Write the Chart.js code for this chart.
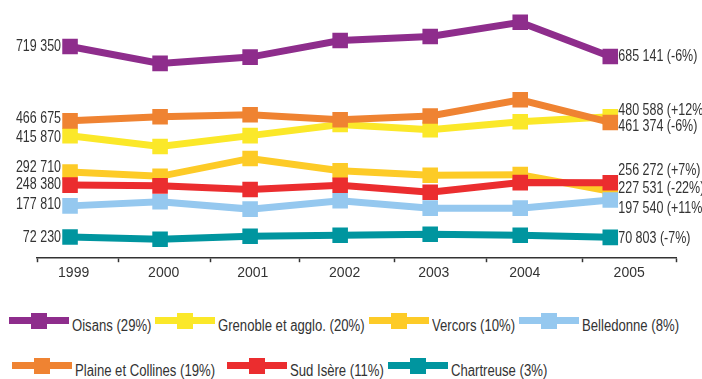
<!DOCTYPE html>
<html lang="fr">
<head>
<meta charset="utf-8">
<title>Évolution par secteur 1999-2005</title>
<script src="https://cdn.jsdelivr.net/npm/chart.js@4.4.1/dist/chart.umd.min.js"></script>
<style>
  html, body { margin: 0; padding: 0; background: #fff; }
  #wrap { position: relative; width: 702px; height: 379px; overflow: hidden; }
  #box { position: absolute; left: 0; top: 0; width: 702px; height: 300px; }
  .row { position: absolute; display: flex; align-items: flex-start; height: 16px; }
  .item { display: flex; align-items: flex-start; margin-right: 4px; }
  .sw { position: relative; width: 60px; height: 16px; flex: none; }
  .sw .bar { position: absolute; left: 0; top: 4px; width: 60px; height: 7px; }
  .sw .sq { position: absolute; left: 22px; top: 0; width: 16px; height: 16px; }
  .lbl { display: inline-block; margin-left: 3px; font: 16px 'Liberation Sans', Arial, sans-serif;
         color: #333; line-height: 16px; position: relative; top: 5px; white-space: nowrap;
         transform-origin: left center; }
</style>
</head>
<body>
<div id="wrap">
  <div id="box"><canvas id="grafico"></canvas></div>
  <div class="row" id="row1" style="left:9px; top:313px;"></div>
  <div class="row" id="row2" style="left:12px; top:358px;"></div>
</div>
<script>
var years = [1999, 2000, 2001, 2002, 2003, 2004, 2005];

var oisans     = [719350, 662000, 683300, 739700, 753200, 801500, 685141];
var grenoble   = [415870, 379500, 416600, 454400, 436900, 463900, 480588];
var vercors    = [292710, 278200, 339000, 297400, 281600, 283900, 227531];
var belledonne = [177810, 191800, 166800, 195100, 170100, 170100, 197540];
var plaine     = [466675, 480700, 487500, 470600, 483100, 538100, 461374];
var sudIsere   = [248380, 245800, 233300, 247800, 224200, 256900, 256272];
var chartreuse = [72230, 64500, 74600, 78000, 81400, 78000, 70803];

var names  = ['Oisans', 'Grenoble et agglo.', 'Vercors', 'Belledonne', 'Plaine et Collines', 'Sud Isère', 'Chartreuse'];
var shares = ['29%', '20%', '10%', '8%', '19%', '11%', '3%'];
var change = ['-6%', '+12%', '-22%', '+11%', '-6%', '+7%', '-7%'];

// year labels sit centred in each section, sections split by the tick marks
var tickLabels   = ['1999', '2000', '2001', '2002', '2003', '2004', '2005'];
var labelPos     = [1999.04, 2000.04, 2001.03, 2002.05, 2003.04, 2004.05, 2005.21];
var sectionTicks = [1998.633, 1999.54, 2000.564, 2001.543, 2002.598, 2003.628, 2004.686, 2005.73];

var series = [oisans, grenoble, vercors, belledonne, plaine, sudIsere, chartreuse];
var colors = ['#8e2d8c', '#fbe829', '#fdcb27', '#95c8ef', '#ef8332', '#eb2d2f', '#00959f'];
var layer  = [1, 5, 5, 1, 1, 1, 1];

var FONT = "'Liberation Sans', Arial, sans-serif";
var NARROW = 0.78;      // squeeze text horizontally, condensed look
var NARROW_LEG = 0.82;

function fmt(v) {
  return String(v).replace(/\B(?=(\d{3})+(?!\d))/g, ' ');
}

var datasets = series.map(function(vals, i) {
  return {
    label: names[i],
    data: years.map(function(yr, j) { return { x: yr, y: vals[j] }; }),
    borderColor: colors[i],
    backgroundColor: colors[i],
    borderWidth: 7,
    pointStyle: 'rect',
    pointRadius: 11,
    pointHoverRadius: 11,
    pointBorderWidth: 0,
    tension: 0,
    order: layer[i]
  };
});

function narrowText(ctx, txt, x, y, align) {
  ctx.save();
  ctx.translate(x, y);
  ctx.scale(NARROW, 1);
  ctx.textAlign = align;
  ctx.fillText(txt, 0, 0);
  ctx.restore();
}

// value at both ends of every line
var endLabels = {
  id: 'endLabels',
  afterDatasetsDraw: function(chart, args, opts) {
    var ctx = chart.ctx;
    ctx.save();
    ctx.font = '16px ' + FONT;
    ctx.fillStyle = '#333';
    ctx.textBaseline = 'middle';
    chart.data.datasets.forEach(function(ds, i) {
      var pts = chart.getDatasetMeta(i).data;
      var a = pts[0], b = pts[pts.length - 1];
      narrowText(ctx, fmt(ds.data[0].y), a.x - 9, a.y + opts.leftNudge[i], 'right');
      narrowText(ctx, fmt(ds.data[ds.data.length - 1].y) + ' (' + change[i] + ')',
                 b.x + 8, b.y + opts.rightNudge[i], 'left');
    });
    ctx.restore();
  }
};

var ctx = document.getElementById('grafico').getContext('2d');
var chart = new Chart(ctx, {
  type: 'line',
  data: { datasets: datasets },
  options: {
    responsive: true,
    maintainAspectRatio: false,
    animation: false,
    layout: { padding: { left: 37, right: 26, top: 10, bottom: 15 } },
    plugins: {
      legend: { display: false },
      tooltip: { enabled: false },
      endLabels: {
        leftNudge:  [0, 2, -4, -1, -2.5, -0.7, 1],
        rightNudge: [0, -6, -2.3, 8.4, 4, -12, 1]
      }
    },
    scales: {
      x: {
        type: 'linear',
        min: sectionTicks[0],
        max: sectionTicks[sectionTicks.length - 1],
        afterBuildTicks: function(scale) {
          scale.ticks = sectionTicks.concat(labelPos).map(function(v) { return { value: v }; });
        },
        grid: {
          drawOnChartArea: false,
          tickLength: 4,
          tickWidth: 1.5,
          tickColor: function(c) {
            return labelPos.indexOf(c.tick.value) >= 0 ? 'rgba(0,0,0,0)' : '#333';
          }
        },
        border: { color: '#333', width: 1.5 },
        ticks: {
          autoSkip: false,
          maxRotation: 0,
          padding: 3,
          color: '#333',
          font: { family: FONT, size: 14 },
          callback: function(v) {
            var k = labelPos.indexOf(v);
            return k >= 0 ? tickLabels[k] : '';
          }
        }
      },
      y: {
        display: false,
        min: 0,
        max: 840000
      }
    }
  },
  plugins: [endLabels]
});

// legend rows under the chart
datasets.forEach(function(ds, i) {
  var row = document.getElementById(i < 4 ? 'row1' : 'row2');
  var item = document.createElement('div');
  item.className = 'item';
  item.innerHTML = '<div class="sw"><div class="bar" style="background:' + ds.borderColor + '"></div>' +
    '<div class="sq" style="background:' + ds.borderColor + '"></div></div>' +
    '<span class="lbl">' + names[i] + ' (' + shares[i] + ')</span>';
  row.appendChild(item);
  var lbl = item.querySelector('.lbl');
  lbl.style.transform = 'scaleX(' + NARROW_LEG + ')';
  lbl.style.marginRight = (-lbl.offsetWidth * (1 - NARROW_LEG)) + 'px';
  if (i === 4) item.style.marginRight = '12px';
});
</script>
</body>
</html>
